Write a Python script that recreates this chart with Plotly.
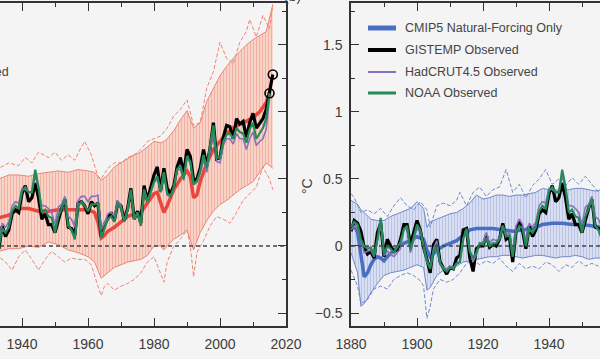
import plotly.graph_objects as go

# ---------------- observed series (deg C, annual) ----------------
obs_start = 1880
gistemp = [
    0.11, 0.19, 0.17, 0.11, -0.01, -0.06, -0.04, -0.09, 0.10, 0.17,
    -0.08, 0.05, 0.00, -0.04, -0.03, 0.05, 0.16, 0.16, 0.01, 0.10,
    0.19, 0.12, -0.01, -0.10, -0.20, 0.01, 0.05, -0.12, -0.16, -0.21,
    -0.16, -0.17, -0.09, -0.07, 0.12, 0.13, -0.09, -0.19, -0.02, 0.00,
    0.00, 0.08, -0.01, 0.01, 0.00, 0.05, 0.17, 0.05, 0.07, -0.12,
    0.11, 0.18, 0.11, -0.02, 0.15, 0.07, 0.12, 0.24, 0.27, 0.25,
    0.39, 0.45, 0.33, 0.36, 0.47, 0.36, 0.20, 0.24, 0.16, 0.16,
    0.10, 0.20, 0.28, 0.35, 0.14, 0.13, 0.08, 0.32, 0.33, 0.30,
    0.24, 0.33, 0.30, 0.32, 0.07, 0.16, 0.21, 0.25, 0.19, 0.32,
    0.30, 0.19, 0.28, 0.43, 0.20, 0.26, 0.17, 0.45, 0.34, 0.43,
    0.53, 0.59, 0.41, 0.58, 0.43, 0.39, 0.45, 0.59, 0.66, 0.54,
    0.72, 0.67, 0.49, 0.50, 0.58, 0.72, 0.60, 0.73, 0.92, 0.65,
    0.66, 0.81, 0.90, 0.89, 0.80, 0.95, 0.91, 0.93, 0.81, 0.92,
    0.99, 0.88, 0.92, 0.95, 1.02, 1.16, 1.28,
]
hadcrut = [
    0.12, 0.15, 0.13, 0.04, -0.05, -0.04, -0.03, -0.08, 0.04, 0.16,
    -0.07, -0.04, -0.06, -0.08, -0.05, -0.02, 0.13, 0.13, -0.05, 0.04,
    0.13, 0.10, -0.02, -0.12, -0.16, -0.02, 0.04, -0.13, -0.16, -0.17,
    -0.15, -0.16, -0.13, -0.12, 0.06, 0.10, -0.03, -0.12, -0.06, 0.02,
    0.03, 0.10, 0.02, 0.05, 0.04, 0.06, 0.15, 0.09, 0.10, -0.04,
    0.15, 0.20, 0.16, 0.03, 0.17, 0.14, 0.18, 0.30, 0.33, 0.32,
    0.43, 0.42, 0.40, 0.41, 0.52, 0.43, 0.30, 0.30, 0.28, 0.25,
    0.16, 0.29, 0.31, 0.37, 0.22, 0.20, 0.14, 0.34, 0.37, 0.37,
    0.33, 0.37, 0.37, 0.38, 0.12, 0.17, 0.24, 0.25, 0.22, 0.34,
    0.30, 0.19, 0.27, 0.41, 0.20, 0.25, 0.17, 0.42, 0.34, 0.40,
    0.47, 0.50, 0.42, 0.55, 0.38, 0.37, 0.43, 0.57, 0.57, 0.49,
    0.66, 0.62, 0.46, 0.48, 0.54, 0.64, 0.55, 0.70, 0.85, 0.63,
    0.62, 0.75, 0.80, 0.80, 0.76, 0.84, 0.80, 0.80, 0.72, 0.80,
    0.85, 0.75, 0.78, 0.80, 0.87, 1.10,
]
noaa = [
    0.14, 0.18, 0.16, 0.05, 0.00, -0.02, -0.01, -0.07, 0.05, 0.21,
    -0.06, 0.00, -0.02, -0.05, -0.01, 0.03, 0.12, 0.15, -0.03, 0.06,
    0.16, 0.12, 0.00, -0.11, -0.17, -0.04, 0.01, -0.13, -0.17, -0.19,
    -0.16, -0.17, -0.13, -0.12, 0.05, 0.13, -0.04, -0.09, -0.05, 0.02,
    0.01, 0.06, 0.00, 0.02, 0.02, 0.05, 0.15, 0.07, 0.08, -0.08,
    0.10, 0.15, 0.13, 0.00, 0.13, 0.10, 0.14, 0.26, 0.30, 0.28,
    0.41, 0.44, 0.40, 0.40, 0.57, 0.44, 0.25, 0.27, 0.22, 0.21,
    0.10, 0.22, 0.28, 0.35, 0.15, 0.12, 0.05, 0.30, 0.33, 0.30,
    0.26, 0.31, 0.31, 0.32, 0.06, 0.13, 0.20, 0.22, 0.18, 0.32,
    0.28, 0.18, 0.27, 0.42, 0.20, 0.25, 0.15, 0.42, 0.33, 0.40,
    0.48, 0.52, 0.40, 0.55, 0.39, 0.37, 0.44, 0.57, 0.60, 0.50,
    0.67, 0.63, 0.46, 0.48, 0.56, 0.68, 0.58, 0.75, 0.90, 0.66,
    0.66, 0.78, 0.83, 0.84, 0.80, 0.88, 0.85, 0.84, 0.77, 0.87,
    0.92, 0.80, 0.84, 0.88, 0.95, 1.14,
]
gistemp_years = list(range(obs_start, obs_start + len(gistemp)))
hadcrut_years = list(range(obs_start, obs_start + len(hadcrut)))
noaa_years = list(range(obs_start, obs_start + len(noaa)))

# ---------------- CMIP5 all-forcing (left panel) ----------------
all_mean_years = [1930, 1933, 1936, 1939, 1942, 1945, 1948, 1951, 1954, 1957, 1960, 1962,
                  1963, 1964, 1965, 1966, 1968, 1970, 1972, 1974, 1976, 1978, 1980, 1981,
                  1982, 1983, 1984, 1986, 1988, 1990, 1991, 1992, 1993, 1994, 1996, 1998,
                  2000, 2002, 2004, 2006, 2008, 2010, 2012, 2014, 2015]
all_mean = [0.20, 0.21, 0.23, 0.28, 0.28, 0.26, 0.26, 0.27, 0.27, 0.27, 0.27, 0.25,
            0.18, 0.06, 0.08, 0.11, 0.14, 0.18, 0.22, 0.24, 0.25, 0.32, 0.39, 0.40,
            0.32, 0.25, 0.30, 0.42, 0.50, 0.56, 0.52, 0.36, 0.38, 0.48, 0.62, 0.72,
            0.78, 0.84, 0.88, 0.91, 0.93, 0.96, 1.00, 1.07, 1.14]

all_band_years = [1930, 1933, 1936, 1939, 1942, 1945, 1948, 1951, 1954, 1957, 1960, 1962,
                  1964, 1966, 1968, 1970, 1972, 1974, 1976, 1978, 1980, 1982, 1983, 1984,
                  1986, 1988, 1990, 1992, 1994, 1996, 1998, 2000, 2002, 2004, 2006, 2008,
                  2010, 2012, 2014, 2016]
all_upper = [0.48, 0.50, 0.53, 0.53, 0.52, 0.54, 0.55, 0.56, 0.55, 0.57, 0.56, 0.55,
             0.49, 0.53, 0.59, 0.62, 0.65, 0.68, 0.70, 0.74, 0.78, 0.77, 0.78, 0.80,
             0.86, 0.94, 1.01, 0.88, 0.92, 1.08, 1.18, 1.27, 1.34, 1.40, 1.45, 1.50,
             1.54, 1.57, 1.60, 1.80]
all_lower = [-0.05, -0.04, -0.02, -0.02, 0.00, -0.01, 0.03, 0.01, -0.03, -0.05, -0.08, -0.12,
             -0.24, -0.20, -0.16, -0.14, -0.12, -0.11, -0.10, -0.07, 0.00, 0.00, -0.03, 0.00,
             0.05, 0.08, 0.12, -0.03, 0.10, 0.19, 0.26, 0.31, 0.34, 0.38, 0.42, 0.45,
             0.48, 0.55, 0.62, 0.58]

all_dash_up_years = [1930, 1933, 1936, 1939, 1941, 1943, 1945, 1948, 1950, 1952, 1954, 1956,
                     1958, 1959, 1961, 1963, 1964, 1966, 1968, 1970, 1972, 1974, 1976, 1978,
                     1980, 1982, 1984, 1986, 1988, 1990, 1992, 1994, 1996, 1998, 2000, 2002,
                     2004, 2006, 2008, 2009, 2011, 2013, 2015, 2016]
all_dash_up = [0.60, 0.58, 0.62, 0.60, 0.66, 0.62, 0.70, 0.66, 0.70, 0.64, 0.68, 0.64,
               0.74, 0.78, 0.68, 0.52, 0.50, 0.58, 0.62, 0.62, 0.66, 0.68, 0.72, 0.78,
               0.80, 0.82, 0.88, 0.97, 1.02, 1.09, 0.90, 0.92, 1.18, 1.30, 1.52, 1.40,
               1.36, 1.52, 1.60, 1.69, 1.56, 1.72, 1.62, 1.80]
all_dash_lo_years = [1930, 1933, 1935, 1937, 1939, 1941, 1943, 1945, 1947, 1949, 1951, 1953,
                     1955, 1957, 1959, 1961, 1963, 1964, 1965, 1966, 1968, 1970, 1972, 1974,
                     1976, 1978, 1980, 1982, 1983, 1984, 1986, 1988, 1990, 1991, 1992, 1993,
                     1995, 1997, 1999, 2001, 2003, 2005, 2007, 2009, 2011, 2013, 2015, 2016]
all_dash_lo = [-0.10, -0.08, -0.12, -0.18, -0.08, -0.03, -0.10, -0.18, -0.10, -0.04, -0.08, -0.12,
               -0.09, -0.10, -0.10, -0.14, -0.30, -0.37, -0.30, -0.28, -0.33, -0.30, -0.28, -0.25,
               -0.20, -0.12, -0.08, -0.20, -0.27, -0.12, 0.00, 0.05, 0.12, 0.00, -0.23, -0.05,
               0.04, 0.15, 0.22, 0.20, 0.17, 0.25, 0.34, 0.39, 0.44, 0.59, 0.50, 0.42]

# ---------------- CMIP5 natural-forcing only (right panel) ----------------
nat_mean_years = [1880, 1881, 1882, 1883, 1884, 1885, 1886, 1887, 1888, 1889, 1890, 1891,
                  1892, 1893, 1894, 1896, 1898, 1900, 1902, 1903, 1904, 1905, 1906, 1908,
                  1910, 1912, 1914, 1916, 1918, 1920, 1923, 1926, 1929, 1932, 1935, 1938,
                  1941, 1944, 1947, 1950, 1953, 1956]
nat_mean = [0.14, 0.15, 0.10, -0.05, -0.23, -0.20, -0.14, -0.10, -0.08, -0.09, -0.11, -0.08,
            -0.05, -0.03, -0.01, 0.02, 0.04, 0.07, 0.05, -0.03, -0.08, -0.06, -0.03, 0.00,
            0.02, 0.04, 0.08, 0.12, 0.13, 0.13, 0.13, 0.12, 0.11, 0.12, 0.13, 0.16,
            0.17, 0.17, 0.16, 0.16, 0.15, 0.14]

nat_band_years = [1880, 1882, 1883, 1884, 1886, 1888, 1890, 1892, 1894, 1896, 1898, 1900,
                  1902, 1903, 1904, 1906, 1908, 1910, 1912, 1914, 1916, 1918, 1920, 1922,
                  1924, 1926, 1928, 1930, 1932, 1934, 1936, 1938, 1940, 1942, 1944, 1946,
                  1948, 1950, 1952, 1954, 1956]
nat_upper = [0.34, 0.31, 0.27, 0.25, 0.20, 0.19, 0.19, 0.22, 0.24, 0.26, 0.28, 0.33,
             0.28, 0.14, 0.18, 0.20, 0.22, 0.24, 0.25, 0.28, 0.32, 0.38, 0.35, 0.36,
             0.38, 0.38, 0.37, 0.38, 0.38, 0.39, 0.40, 0.43, 0.42, 0.42, 0.41, 0.42,
             0.43, 0.43, 0.42, 0.41, 0.42]
nat_lower = [-0.05, -0.20, -0.45, -0.43, -0.35, -0.28, -0.22, -0.20, -0.19, -0.18, -0.16, -0.14,
             -0.16, -0.33, -0.31, -0.22, -0.18, -0.16, -0.15, -0.12, -0.11, -0.10, -0.09, -0.08,
             -0.08, -0.07, -0.07, -0.08, -0.09, -0.08, -0.07, -0.07, -0.08, -0.09, -0.08, -0.08,
             -0.07, -0.08, -0.10, -0.09, -0.09]

nat_dash_up_years = [1880, 1881, 1883, 1885, 1887, 1889, 1891, 1893, 1895, 1897, 1899, 1901,
                     1903, 1904, 1906, 1908, 1910, 1912, 1913, 1915, 1917, 1919, 1921, 1923,
                     1925, 1927, 1929, 1931, 1933, 1935, 1937, 1939, 1941, 1943, 1945, 1947,
                     1949, 1951, 1953, 1955]
nat_dash_up = [0.39, 0.36, 0.25, 0.27, 0.24, 0.28, 0.22, 0.30, 0.36, 0.30, 0.27, 0.33,
               0.27, 0.14, 0.30, 0.32, 0.30, 0.34, 0.40, 0.30, 0.40, 0.44, 0.37, 0.42,
               0.44, 0.57, 0.40, 0.46, 0.36, 0.45, 0.50, 0.57, 0.46, 0.50, 0.45, 0.51,
               0.46, 0.52, 0.46, 0.40]
nat_dash_lo_years = [1880, 1882, 1883, 1885, 1887, 1889, 1891, 1893, 1895, 1897, 1899, 1901,
                     1902, 1903, 1904, 1905, 1907, 1909, 1911, 1913, 1915, 1917, 1919, 1921,
                     1923, 1925, 1927, 1929, 1931, 1933, 1935, 1937, 1939, 1941, 1943, 1945,
                     1947, 1949, 1951, 1953, 1955]
nat_dash_lo = [-0.18, -0.30, -0.43, -0.40, -0.32, -0.30, -0.32, -0.25, -0.22, -0.20, -0.22, -0.26,
               -0.30, -0.54, -0.45, -0.32, -0.25, -0.27, -0.25, -0.20, -0.13, -0.10, -0.14, -0.11,
               -0.13, -0.09, -0.15, -0.19, -0.13, -0.17, -0.15, -0.17, -0.12, -0.14, -0.19, -0.14,
               -0.16, -0.11, -0.15, -0.13, -0.15]

legend_labels = ["CMIP5 Natural-Forcing Only", "GISTEMP Observed",
                 "HadCRUT4.5 Observed", "NOAA Observed"]
x_ticks = [1880, 1900, 1920, 1940, 1960, 1980, 2000, 2020]
y_ticks = [-0.5, 0, 0.5, 1, 1.5]
y_tick_text = ["\u22120.5", "0", "0.5", "1", "1.5"]

# ---------------- styling ----------------
W, H = 600, 359
BG = "#f4f4f4"
AXC = "#333333"
TXT = "#3c3c3c"
FONT = "Liberation Sans, Arial, sans-serif"
RED = "#e8473d"
RED_THIN = "#ee8474"
BLUE = "#4a6fc2"
BLUE_THIN = "#7088cc"
BLACK = "#000000"
PURPLE = "#8a70c0"
GREEN = "#248a57"

def px_x(p):
    return p / W

def px_y(p):
    return 1 - p / H

fig = go.Figure()

def add_band(years, up, lo, dup_years, dup, dlo_years, dlo, line_c, bg_c, fg_c, xa, ya):
    fig.add_trace(go.Scatter(x=years, y=up, mode="lines", xaxis=xa, yaxis=ya,
                             line=dict(color=line_c, width=1), showlegend=False, hoverinfo="skip"))
    fig.add_trace(go.Scatter(x=years, y=lo, mode="lines", xaxis=xa, yaxis=ya, fill="tonexty",
                             fillcolor=bg_c,
                             fillpattern=dict(shape="|", bgcolor=bg_c, fgcolor=fg_c, size=3, solidity=0.35),
                             line=dict(color=line_c, width=1), showlegend=False, hoverinfo="skip"))
    fig.add_trace(go.Scatter(x=dup_years, y=dup, mode="lines", xaxis=xa, yaxis=ya,
                             line=dict(color=line_c, width=1, dash="4px,2px"), showlegend=False, hoverinfo="skip"))
    fig.add_trace(go.Scatter(x=dlo_years, y=dlo, mode="lines", xaxis=xa, yaxis=ya,
                             line=dict(color=line_c, width=1, dash="4px,2px"), showlegend=False, hoverinfo="skip"))

def add_obs(xa, ya):
    fig.add_trace(go.Scatter(x=gistemp_years, y=gistemp, mode="lines", xaxis=xa, yaxis=ya,
                             line=dict(color=BLACK, width=3.2), showlegend=False))
    fig.add_trace(go.Scatter(x=hadcrut_years, y=hadcrut, mode="lines", xaxis=xa, yaxis=ya,
                             line=dict(color=PURPLE, width=1.6), showlegend=False))
    fig.add_trace(go.Scatter(x=noaa_years, y=noaa, mode="lines", xaxis=xa, yaxis=ya,
                             line=dict(color=GREEN, width=2.2), showlegend=False))

# Left panel
add_band(all_band_years, all_upper, all_lower, all_dash_up_years, all_dash_up,
         all_dash_lo_years, all_dash_lo, RED_THIN, "#f8d3c8", "#ee9080", "x", "y")
fig.add_trace(go.Scatter(x=all_mean_years, y=all_mean, mode="lines", xaxis="x", yaxis="y",
                         line=dict(color=RED, width=3.5), showlegend=False))
add_obs("x", "y")
fig.add_trace(go.Scatter(x=[gistemp_years[-1], noaa_years[-1]], y=[gistemp[-1], noaa[-1]],
                         mode="markers", xaxis="x", yaxis="y",
                         marker=dict(symbol="circle-open", size=9, color=BLACK, line=dict(width=1.6)),
                         showlegend=False))

# Right panel
add_band(nat_band_years, nat_upper, nat_lower, nat_dash_up_years, nat_dash_up,
         nat_dash_lo_years, nat_dash_lo, BLUE_THIN, "#d9def0", "#9aa8da", "x2", "y2")
fig.add_trace(go.Scatter(x=nat_mean_years, y=nat_mean, mode="lines", xaxis="x2", yaxis="y2",
                         line=dict(color=BLUE, width=3.5), showlegend=False))
add_obs("x2", "y2")

# zero lines
for xr, yr in (("x domain", "y"), ("x2 domain", "y2")):
    fig.add_shape(type="line", xref=xr, yref=yr, x0=0, x1=1, y0=0, y1=0,
                  line=dict(color="#444444", width=1.3, dash="4px,3px"), layer="above")

ydom = [px_y(326), px_y(3)]
yrange = [-0.597, 1.813]
axis_common = dict(showline=True, linecolor=AXC, linewidth=1.5, ticks="inside", tickcolor=AXC,
                   tickwidth=1.2, ticklen=8, showgrid=False, zeroline=False, automargin=False,
                   ticklabelstandoff=4,
                   tickfont=dict(family=FONT, size=14, color=TXT))

fig.update_layout(
    width=W, height=H,
    margin=dict(l=0, r=0, t=0, b=0, autoexpand=False),
    paper_bgcolor=BG, plot_bgcolor=BG,
    showlegend=False,
    xaxis=dict(domain=[0, px_x(286)], range=[1940 - 22 / 3.3, 2020], anchor="y",
               tickvals=x_ticks, mirror="allticks",
               minor=dict(dtick=10, tick0=1880, ticks="inside", ticklen=4, tickcolor=AXC),
               **axis_common),
    yaxis=dict(domain=ydom, range=yrange, anchor="x", side="right", tickvals=y_ticks,
               showticklabels=False,
               minor=dict(dtick=0.25, tick0=0, ticks="inside", ticklen=4, tickcolor=AXC),
               **axis_common),
    xaxis2=dict(domain=[px_x(351), 1], range=[1880, 1880 + 249 / 3.3], anchor="y2",
                tickvals=x_ticks, mirror="allticks",
                minor=dict(dtick=10, tick0=1880, ticks="inside", ticklen=4, tickcolor=AXC),
                **axis_common),
    yaxis2=dict(domain=ydom, range=yrange, anchor="x2", side="left", tickvals=y_ticks,
                ticktext=y_tick_text,
                minor=dict(dtick=0.25, tick0=0, ticks="inside", ticklen=4, tickcolor=AXC),
                **axis_common),
)

# Legend for right panel (drawn manually)
leg_colors = [BLUE, BLACK, PURPLE, GREEN]
leg_widths = [5, 4, 2, 3]
leg_y = [28, 50, 72, 93]
for lab, c, w, yy in zip(legend_labels, leg_colors, leg_widths, leg_y):
    fig.add_shape(type="line", xref="paper", yref="paper", x0=px_x(368), x1=px_x(396),
                  y0=px_y(yy), y1=px_y(yy), line=dict(color=c, width=w))
    fig.add_annotation(xref="paper", yref="paper", x=px_x(403), y=px_y(yy), text=lab,
                       showarrow=False, xanchor="left", yanchor="middle",
                       font=dict(family=FONT, size=12.5, color="#444444"))

# Left panel legend entry (mostly out of view)
fig.add_annotation(xref="paper", yref="paper", x=px_x(10.5), y=px_y(72), text="HadCRUT4.5 Observed",
                   showarrow=False, xanchor="right", yanchor="middle",
                   font=dict(family=FONT, size=12.5, color="#444444"))

# y-axis unit label
fig.add_annotation(xref="paper", yref="paper", x=px_x(307), y=px_y(186), text="\u00b0C",
                   showarrow=False, textangle=-90, xanchor="center", yanchor="middle",
                   font=dict(family=FONT, size=14, color=TXT))

# panel label (mostly cut off at top)
fig.add_annotation(xref="paper", yref="paper", x=px_x(282), y=px_y(6), text="(b)",
                   showarrow=False, xanchor="left", yanchor="bottom",
                   font=dict(family=FONT, size=14, color=TXT))

# partially visible tick label at right edge
fig.add_annotation(xref="x2", yref="paper", x=1960, y=px_y(343), text="1960",
                   showarrow=False, xanchor="center", yanchor="middle",
                   font=dict(family=FONT, size=14, color=TXT))

fig.write_html("out.html", config={"displayModeBar": False},
               post_script="document.body.style.margin='0px';document.body.style.background='#f4f4f4';")
